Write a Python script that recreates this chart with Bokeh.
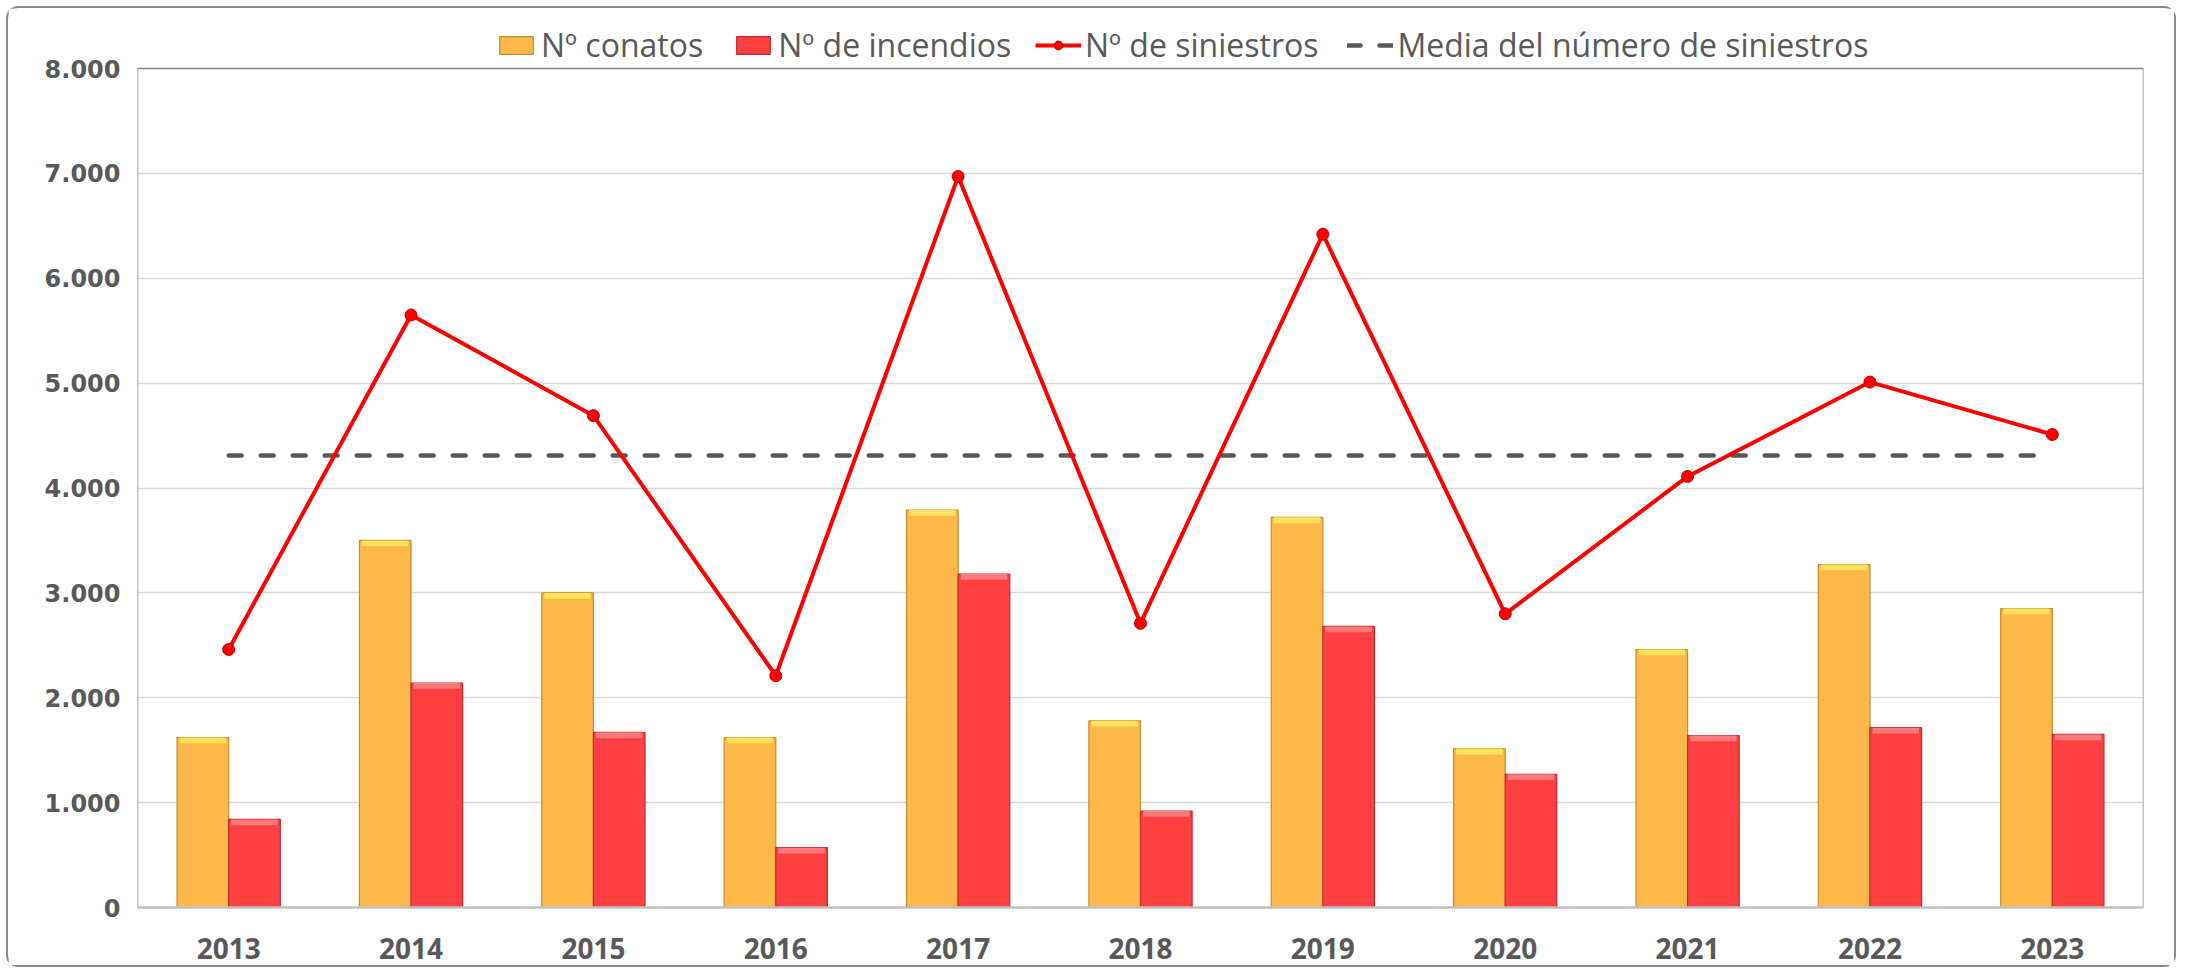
from bokeh.plotting import figure
from bokeh.models import ColumnDataSource, FactorRange, Legend, LegendItem, FixedTicker, Range1d
from bokeh.transform import dodge
from bokeh.embed import file_html
from bokeh.resources import INLINE

years = ["2013", "2014", "2015", "2016", "2017", "2018", "2019", "2020", "2021", "2022", "2023"]
conatos = [1620, 3500, 3000, 1620, 3790, 1780, 3720, 1515, 2460, 3270, 2850]
incendios = [840, 2140, 1670, 570, 3180, 920, 2680, 1270, 1640, 1715, 1650]
siniestros = [2460, 5650, 4690, 2210, 6970, 2710, 6420, 2800, 4110, 5010, 4510]
media_siniestros = 4310
y_ticks = [0, 1000, 2000, 3000, 4000, 5000, 6000, 7000, 8000]
y_tick_labels = ["0", "1.000", "2.000", "3.000", "4.000", "5.000", "6.000", "7.000", "8.000"]

STRIP = 55  # bevel strip thickness (data units)
src = ColumnDataSource(dict(
    years=years,
    conatos=conatos,
    incendios=incendios,
    conatos_strip=[v - STRIP for v in conatos],
    incendios_strip=[v - STRIP for v in incendios],
    siniestros=siniestros,
    media=[media_siniestros for _ in years],
))

# layout (pixels): canvas 2170 x 961, plot area from y=60 (8000) to y=899 (0)
W, H = 2170, 961
TOP_PAD, AREA_TOP, AREA_BOTTOM = 12, 60, 899
y_max = y_ticks[-1]
y_end = y_max * (AREA_BOTTOM - TOP_PAD) / (AREA_BOTTOM - AREA_TOP)

p = figure(
    x_range=FactorRange(*years), y_range=Range1d(0, y_end),
    width=W, height=H, output_backend="svg", toolbar_location=None,
    min_border_left=129, min_border_right=35, min_border_top=TOP_PAD, min_border_bottom=H - AREA_BOTTOM,
    background_fill_color="white", border_fill_color="white",
)
p.styles = {"margin": "6px 6px 0px 6px", "border": "2px solid #8a8a8a", "border-radius": "12px"}
p.outline_line_color = None

BW = 0.283
r_con = p.vbar(x=dodge("years", -BW / 2, range=p.x_range), top="conatos", width=BW, source=src,
               fill_color="#FDB84A", line_color="#C98A2C", line_width=1.2)
p.vbar(x=dodge("years", -BW / 2, range=p.x_range), top="conatos", bottom="conatos_strip", width=BW * 0.9,
       source=src, fill_color="#FFE35A", line_color=None)
r_inc = p.vbar(x=dodge("years", BW / 2, range=p.x_range), top="incendios", width=BW, source=src,
               fill_color="#FF4043", line_color="#C22A2D", line_width=1.2)
p.vbar(x=dodge("years", BW / 2, range=p.x_range), top="incendios", bottom="incendios_strip", width=BW * 0.9,
       source=src, fill_color="#FF7A7A", line_color=None)

# plot-area border (left, top, right) in synthetic category coordinates
n = len(years)
p.line(x=[0, 0, n, n], y=[0, y_max, y_max, 0], line_color="#8c8c8c", line_width=1.5)

r_med = p.line(x="years", y="media", source=src, line_color="#595959", line_width=4.5,
               line_dash="13 19", line_cap="round")
r_sin_l = p.line(x="years", y="siniestros", source=src, line_color="#FF0000", line_width=4)
r_sin_m = p.scatter(x="years", y="siniestros", source=src, size=12, marker="circle",
                    fill_color="#FF0000", line_color="#C00000", line_width=1)

p.xgrid.grid_line_color = None
p.ygrid.ticker = FixedTicker(ticks=y_ticks)
p.ygrid.grid_line_color = "#D9D9D9"
p.ygrid.grid_line_width = 1.5

p.yaxis.ticker = FixedTicker(ticks=y_ticks)
p.yaxis.major_label_overrides = {t: l for t, l in zip(y_ticks, y_tick_labels)}
p.yaxis.axis_line_color = None
p.yaxis.major_tick_line_color = None
p.yaxis.minor_tick_line_color = None
p.yaxis.major_label_standoff = 11
p.yaxis.major_label_text_font = "DejaVu Sans"
p.yaxis.major_label_text_font_style = "bold"
p.yaxis.major_label_text_font_size = "24px"
p.yaxis.major_label_text_color = "#595959"

p.xaxis.axis_line_color = "#BFBFBF"
p.xaxis.axis_line_width = 2.5
p.xaxis.major_tick_line_color = None
p.xaxis.minor_tick_line_color = None
p.xaxis.major_label_standoff = 24
p.xaxis.major_label_text_font = "Open Sans"
p.xaxis.major_label_text_font_style = "bold"
p.xaxis.major_label_text_font_size = "28px"
p.xaxis.major_label_text_color = "#595959"

common = dict(orientation="horizontal", label_standoff=4, spacing=29, padding=0, margin=0,
              label_text_font="Open Sans", label_text_font_size="32px", label_text_color="#595959",
              border_line_color=None, background_fill_alpha=0, glyph_height=22)
leg_y = AREA_BOTTOM - 58
leg1 = Legend(items=[
    LegendItem(label="Nº conatos", renderers=[r_con]),
    LegendItem(label="Nº de incendios", renderers=[r_inc]),
], location=(358, leg_y), glyph_width=42, **common)
leg2 = Legend(items=[
    LegendItem(label="Nº de siniestros", renderers=[r_sin_l, r_sin_m]),
    LegendItem(label="Media del número de siniestros", renderers=[r_med]),
], location=(898, leg_y), glyph_width=46, **common)
p.add_layout(leg1, "center")
p.add_layout(leg2, "center")

open("out.html", "w").write(file_html(p, INLINE))
